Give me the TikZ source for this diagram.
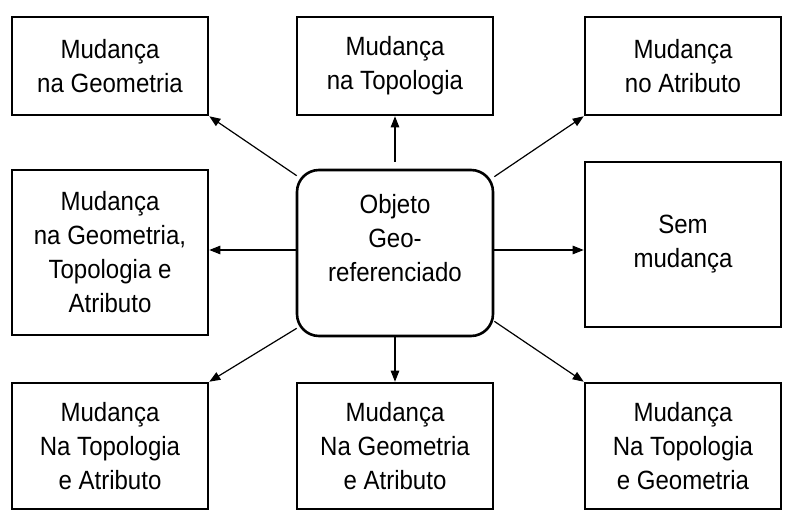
\documentclass[tikz,border=0pt]{standalone}
\usepackage{fontspec}
\setmainfont{Liberation Sans}[FakeStretch=0.91]
\usetikzlibrary{arrows.meta,calc}
\begin{document}
\begin{tikzpicture}[x=1pt,y=-1pt,
  box/.style={draw=black,line width=2.6pt,minimum width=196pt,inner sep=0pt,
    align=center,font=\fontsize{26.4}{34}\selectfont},
  conn/.style={draw=black,line width=1.2pt,-{Triangle[length=11pt,width=8.5pt]}}]
\useasboundingbox (0,0) rectangle (801,524);
\fill[white] (0,0) rectangle (801,524);
\node[box,minimum height=98pt] (TL) at (110,66) {Mudança\\na Geometria};
\node[box,minimum height=98pt] (TC) at (395,66) {Mudança\\na Topologia};
\node[box,minimum height=98pt] (TR) at (683,66) {Mudança\\no Atributo};
\node[box,minimum height=165pt] (ML) at (110,252.5) {Mudança\\na Geometria,\\Topologia e\\Atributo};
\node[box,minimum height=166pt,rounded corners=22pt,
  label={[anchor=north,yshift=-25pt,inner sep=0pt,align=center,font=\fontsize{26.4}{34}\selectfont]north:{Objeto\\Geo-\\referenciado}}] (C) at (395,253) {};
\node[box,minimum height=165pt] (MR) at (683,244.5) {Sem\\mudança};
\node[box,minimum height=126pt] (BL) at (110,446) {Mudança\\Na Topologia\\e Atributo};
\node[box,minimum height=126pt] (BC) at (395,446) {Mudança\\Na Geometria\\e Atributo};
\node[box,minimum height=126pt] (BR) at (683,446) {Mudança\\Na Topologia\\e Geometria};
\draw[conn] ([shift={(1,7)}]C.north west) -- (TL.south east);
\draw[conn] ([shift={(0,-7)}]C.north) -- (TC.south);
\draw[conn] ([shift={(0,8)}]C.north east) -- (TR.south west);
\draw[conn] ([shift={(0,-3)}]C.west) -- (ML.east |- 0,250);
\draw[conn] ([shift={(0,-3)}]C.east) -- (MR.west |- 0,250);
\draw[conn] ([shift={(1,-9)}]C.south west) -- (BL.north east);
\draw[conn] (C.south) -- (BC.north);
\draw[conn] ([shift={(0,-16)}]C.south east) -- (BR.north west);
\end{tikzpicture}
\end{document}
